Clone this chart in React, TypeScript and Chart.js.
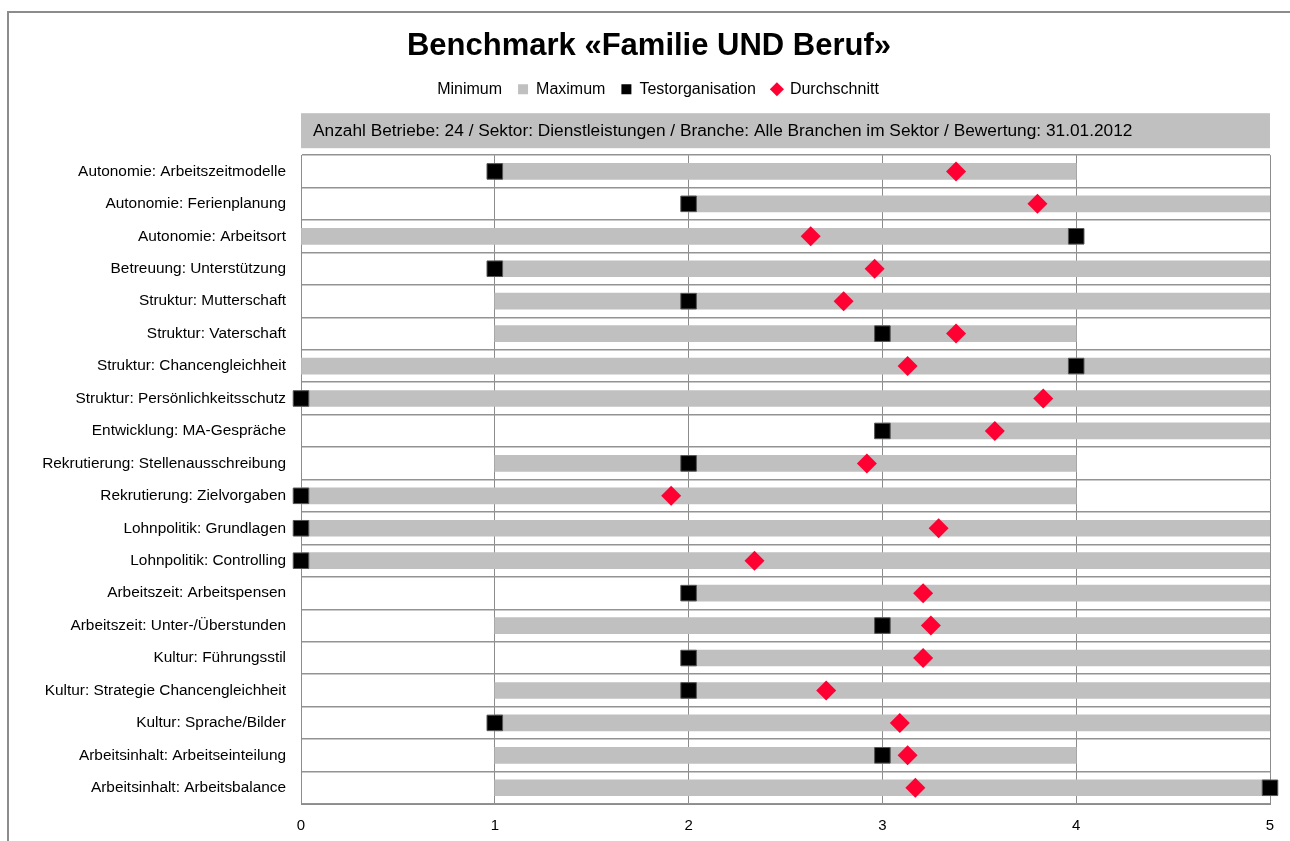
import React, { useEffect, useRef } from "react";
import { Chart, registerables } from "chart.js";

Chart.register(...registerables);

const TITLE = "Benchmark «Familie UND Beruf»";
const INFO_TEXT =
  "Anzahl Betriebe: 24 / Sektor: Dienstleistungen / Branche: Alle Branchen im Sektor / Bewertung: 31.01.2012";

const CATEGORIES = [
  "Autonomie: Arbeitszeitmodelle",
  "Autonomie: Ferienplanung",
  "Autonomie: Arbeitsort",
  "Betreuung: Unterstützung",
  "Struktur: Mutterschaft",
  "Struktur: Vaterschaft",
  "Struktur: Chancengleichheit",
  "Struktur: Persönlichkeitsschutz",
  "Entwicklung: MA-Gespräche",
  "Rekrutierung: Stellenausschreibung",
  "Rekrutierung: Zielvorgaben",
  "Lohnpolitik: Grundlagen",
  "Lohnpolitik: Controlling",
  "Arbeitszeit: Arbeitspensen",
  "Arbeitszeit: Unter-/Überstunden",
  "Kultur: Führungsstil",
  "Kultur: Strategie Chancengleichheit",
  "Kultur: Sprache/Bilder",
  "Arbeitsinhalt: Arbeitseinteilung",
  "Arbeitsinhalt: Arbeitsbalance",
];

const MIN_VALUES = [1, 2, 0, 1, 1, 1, 0, 0, 3, 1, 0, 0, 0, 2, 1, 2, 1, 1, 1, 1];
const MAX_VALUES = [4, 5, 4, 5, 5, 4, 5, 5, 5, 4, 4, 5, 5, 5, 5, 5, 5, 5, 4, 5];
const TEST_VALUES = [1, 2, 4, 1, 2, 3, 4, 0, 3, 2, 0, 0, 0, 2, 3, 2, 2, 1, 3, 5];
const AVG_VALUES = [
  3.38, 3.8, 2.63, 2.96, 2.8, 3.38, 3.13, 3.83, 3.58, 2.92, 1.91, 3.29, 2.34, 3.21, 3.25, 3.21, 2.71, 3.09,
  3.13, 3.17,
];

const X_TICKS = [0, 1, 2, 3, 4, 5];
const SERIES_NAMES = ["Minimum", "Maximum", "Testorganisation", "Durchschnitt"];

const FONT = "'Liberation Sans', Arial, sans-serif";
const GRAY = "#c0c0c0";
const RED = "#ff0033";

const infoBoxPlugin = {
  id: "infoBox",
  afterDraw(chart: any) {
    const { ctx, chartArea } = chart;
    const top = chartArea.top - 42;
    const h = 35;
    ctx.save();
    ctx.fillStyle = GRAY;
    ctx.fillRect(chartArea.left, top, chartArea.right - chartArea.left, h);
    ctx.fillStyle = "#000";
    ctx.font = `17.3px ${FONT}`;
    ctx.textBaseline = "middle";
    ctx.textAlign = "left";
    ctx.fillText(INFO_TEXT, chartArea.left + 12, top + h / 2 + 1);
    ctx.restore();
  },
};

export default function App() {
  const ref = useRef<HTMLCanvasElement | null>(null);

  useEffect(() => {
    if (!ref.current) return;
    const chart = new Chart(ref.current, {
      type: "bar",
      data: {
        labels: CATEGORIES,
        datasets: [
          {
            type: "bar",
            label: "Maximum",
            data: MIN_VALUES.map((m, i) => [m, MAX_VALUES[i]]) as any,
            backgroundColor: GRAY,
            borderWidth: 0,
            barThickness: 16,
            order: 3,
          } as any,
          {
            type: "line",
            label: "Testorganisation",
            data: TEST_VALUES,
            showLine: false,
            clip: false,
            pointStyle: "rect",
            pointRadius: 11,
            pointBackgroundColor: "#000",
            pointBorderColor: "#555",
            pointBorderWidth: 1,
            order: 2,
          } as any,
          {
            type: "line",
            label: "Durchschnitt",
            data: AVG_VALUES,
            showLine: false,
            clip: false,
            pointStyle: "rectRot",
            pointRadius: 10,
            pointBackgroundColor: RED,
            pointBorderColor: RED,
            pointBorderWidth: 0,
            order: 1,
          } as any,
        ],
      },
      options: {
        indexAxis: "y",
        responsive: false,
        animation: false,
        devicePixelRatio: 1,
        layout: { padding: { left: 28, right: 20, top: 0, bottom: 0 } },
        scales: {
          x: {
            type: "linear",
            min: 0,
            max: 5,
            afterBuildTicks: (scale: any) => {
              scale.ticks = X_TICKS.map((v) => ({ value: v }));
            },
            afterFit: (scale: any) => {
              scale.height = 37;
            },
            ticks: {
              color: "#000",
              font: { family: FONT, size: 15 },
              padding: 13,
            },
            grid: { color: "#8c8c8c", lineWidth: 1, drawTicks: false },
            border: { color: "#8c8c8c", width: 1 },
          },
          y: {
            type: "category",
            offset: true,
            afterFit: (scale: any) => {
              scale.width = 273;
            },
            ticks: {
              color: "#000",
              font: { family: FONT, size: 15.4 },
              padding: 15,
              autoSkip: false,
            },
            grid: { offset: true, color: "#939393", lineWidth: 1.6, drawTicks: false },
            border: { color: "#8c8c8c", width: 1 },
          },
        },
        plugins: {
          title: {
            display: true,
            text: TITLE,
            color: "#000",
            font: { family: FONT, size: 31, weight: "bold" },
            padding: { top: 28, bottom: 0 },
          },
          subtitle: {
            display: true,
            text: "",
            weight: 500,
            font: { family: FONT, size: 15, lineHeight: "35px" },
            padding: { top: 6, bottom: 7 },
          } as any,
          legend: {
            display: true,
            position: "top",
            labels: {
              color: "#000",
              font: { family: FONT, size: 16 },
              usePointStyle: true,
              boxHeight: 10,
              boxWidth: 10,
              padding: 16,
              generateLabels: () => [
                {
                  text: SERIES_NAMES[0],
                  fillStyle: "rgba(0,0,0,0)",
                  strokeStyle: "rgba(0,0,0,0)",
                  lineWidth: 0,
                  pointStyle: "rect",
                  fontColor: "#000",
                  hidden: false,
                },
                {
                  text: SERIES_NAMES[1],
                  fillStyle: GRAY,
                  strokeStyle: GRAY,
                  lineWidth: 0,
                  pointStyle: "rect",
                  fontColor: "#000",
                  hidden: false,
                },
                {
                  text: SERIES_NAMES[2],
                  fillStyle: "#000",
                  strokeStyle: "#000",
                  lineWidth: 0,
                  pointStyle: "rect",
                  fontColor: "#000",
                  hidden: false,
                },
                {
                  text: SERIES_NAMES[3],
                  fillStyle: RED,
                  strokeStyle: RED,
                  lineWidth: 0,
                  pointStyle: "rectRot",
                  fontColor: "#000",
                  hidden: false,
                },
              ] as any,
            },
            onClick: () => {},
          },
          tooltip: { enabled: false },
        },
      } as any,
      plugins: [infoBoxPlugin],
    });
    return () => chart.destroy();
  }, []);

  return (
    <div
      style={{
        position: "fixed",
        left: 0,
        top: 0,
        width: 1290,
        height: 841,
        overflow: "hidden",
        background: "#fff",
      }}
    >
      <div
        style={{
          position: "absolute",
          left: 7,
          top: 11,
          width: 1400,
          height: 1000,
          border: "2px solid #8c8c8c",
          boxSizing: "border-box",
        }}
      />
      <canvas ref={ref} width={1290} height={841} style={{ position: "absolute", left: 0, top: 0 }} />
    </div>
  );
}
